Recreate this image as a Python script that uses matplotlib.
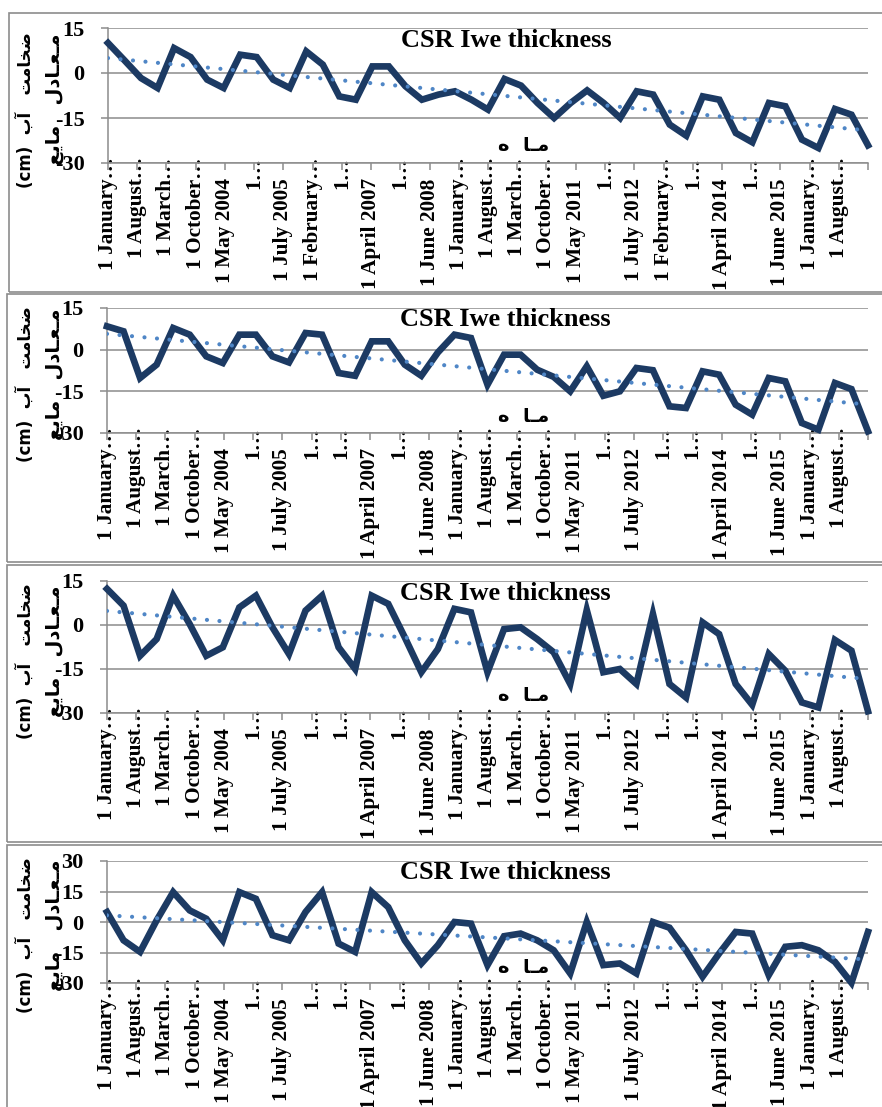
import matplotlib
matplotlib.use("Agg")
import matplotlib.pyplot as plt
import numpy as np
import pandas as pd
from matplotlib.patches import Rectangle
from matplotlib import transforms

# Data points, evenly spaced Jan 2002 .. Mar 2017
dates = pd.date_range("2002-01-01", "2017-03-01", periods=47)
tick_dates = pd.date_range("2002-01-01", periods=27, freq="7MS")

csr_1 = [10, 4.2, -1.7, -5, 8.3, 5.3, -2.2, -5, 6.1, 5.3, -2.2, -5,
         7.2, 2.8, -7.8, -8.9, 2.2, 2.2, -4.4, -8.9, -7.2, -6.1, -8.9, -12.2,
         -2, -4.2, -10, -15, -10, -5.8, -10, -15, -6.1, -7.2, -17.2, -20.9,
         -7.8, -8.9, -20, -23.1, -10, -11.1, -22.2, -25, -12, -13.9, -24.1]
csr_2 = [8.4, 6.6, -10.2, -5.4, 7.8, 5.4, -2.4, -4.8, 5.4, 5.4, -2.4, -4.6,
         6, 5.4, -8.4, -9.4, 3, 3, -5.4, -9.4, -1, 5.4, 4.2, -12.6,
         -1.8, -1.8, -7.2, -9.8, -15, -6, -16.6, -15, -6.6, -7.4, -20.4, -21,
         -7.8, -9, -19.8, -23.4, -10.2, -11.4, -26.4, -28.8, -12, -14.2, -29.4]
csr_3 = [12.3, 6.6, -10.5, -4.8, 10, 0.3, -10.5, -7.6, 6, 10, -0.8, -9.9,
         4.9, 10, -7.6, -15, 10, 7.2, -4.2, -16.1, -8.2, 5.5, 4.3, -16.1,
         -1.4, -0.8, -4.8, -9.3, -20.1, 5.1, -16.1, -15, -20.1, 3.75, -20.1, -24.7,
         0.9, -3.1, -20.1, -27.2, -9.9, -15.6, -26.4, -28.1, -5.1, -8.75, -29.4]
csr_4 = [4.9, -9, -14.7, 0.8, 14.7, 5.7, 1.6, -9, 14.7, 11.4, -6.5, -9,
         4.9, 14.7, -10.6, -14.7, 14.7, 7.3, -9, -20.4, -11.4, 0, -0.8, -21.2,
         -7, -5.7, -9, -13.9, -25.3, 0, -21.2, -20.4, -25.3, 0, -2.8, -13.9,
         -26.9, -15.5, -4.9, -5.7, -26.1, -12.2, -11.4, -13.9, -19.6, -29.9, -4.9]

labels_a = ["1 January…", "1 August…", "1 March…", "1 October…", "1 May 2004",
            "1…", "1 July 2005", "1 February…", "1…", "1 April 2007", "1…",
            "1 June 2008", "1 January…", "1 August…", "1 March…", "1 October…",
            "1 May 2011", "1…", "1 July 2012", "1 February…", "1…",
            "1 April 2014", "1…", "1 June 2015", "1 January…", "1 August…", ""]
labels_b = ["1 January…", "1 August…", "1 March…", "1 October…", "1 May 2004",
            "1…", "1 July 2005", "1…", "1…", "1 April 2007", "1…",
            "1 June 2008", "1 January…", "1 August…", "1 March…", "1 October…",
            "1 May 2011", "1…", "1 July 2012", "1…", "1…",
            "1 April 2014", "1…", "1 June 2015", "1 January…", "1 August…", ""]

yticks_a = [15, 0, -15, -30]
yticks_b = [30, 15, 0, -15, -30]

title = "CSR Iwe thickness"
# Persian labels written in visual (shaped) order
ylab_1 = "(cm)  \uFE8F\uFE81   \uFE96\uFEE3\uFE8E\uFEA8\uFEBF"           # ضخامت آب (cm)
ylab_2 = "\uFECA\uFBFE\uFE8E\uFEE3   \uFEDD\uFEA9\uFE8E\u0640\uFECC\u0640\uFEE3"  # معادل مایع
xlab = "\uFEE9  \uFE8E\u0640\uFEE3"                                       # ماه

W, H = 882, 1107
navy = "#1c3a63"
trend_col = "#4f86c6"
grey = "#8c8c8c"

# (values, tick labels, y ticks, axes left px, top px, bottom px, box top, box bottom, box left)
panels = [
    (csr_1, labels_a, yticks_a, 108, 28, 163, 13, 292, 9),
    (csr_2, labels_b, yticks_a, 107, 308, 433, 294, 562, 7),
    (csr_3, labels_b, yticks_a, 107, 581, 713, 565, 842, 7),
    (csr_4, labels_b, yticks_b, 107, 861, 983, 845, 1120, 7),
]

fig = plt.figure(figsize=(W / 100, H / 100), dpi=100)

for vals, labs, yt, x0, ytop, ybot, btop, bbot, bleft in panels:
    # Chart area border
    fig.add_artist(Rectangle((bleft / W, 1 - bbot / H), (W + 20 - bleft) / W,
                             (bbot - btop) / H, transform=fig.transFigure,
                             fill=False, ec=grey, lw=1.2))

    ax = fig.add_axes([x0 / W, 1 - ybot / H, (868 - x0) / W, (ybot - ytop) / H])
    ax.set_facecolor("none")

    ax.plot(dates, vals, color=navy, lw=4.8, solid_joinstyle="miter",
            clip_on=False, zorder=3)

    idx = np.arange(len(vals))
    coef = np.polyfit(idx, vals, 1)
    ax.plot(dates, np.polyval(coef, idx), color=trend_col, lw=3,
            linestyle=(0, (0.01, 3.0)), dash_capstyle="round", zorder=4)

    ax.set_xlim(dates[0], dates[-1])
    ax.set_ylim(min(yt), max(yt))
    ax.set_yticks(yt)
    ax.set_yticklabels([str(v) for v in yt], fontsize=16, fontweight="bold",
                       family="Liberation Serif")
    ax.set_xticks(tick_dates)

    ax.grid(axis="y", color=grey, lw=1.1)
    ax.grid(axis="x", visible=False)
    ax.set_axisbelow(True)
    for s in ["top", "right"]:
        ax.spines[s].set_visible(False)
    for s in ["left", "bottom"]:
        ax.spines[s].set_color(grey)
        ax.spines[s].set_linewidth(1.1)
    ax.tick_params(axis="x", length=5, width=1.1, color=grey, pad=1)
    ax.tick_params(axis="y", length=5, width=1.1, color=grey, pad=12)

    ax.set_xticklabels(labs, rotation=90, fontsize=15.3, fontweight="bold",
                       family="Liberation Serif", va="top", ha="center")
    # truncated labels sit higher (their dots reach over the axis line)
    for lab in ax.get_xticklabels():
        dy = 14 if lab.get_text().endswith("…") else -7
        off = transforms.ScaledTranslation(0, dy / 100, fig.dpi_scale_trans)
        lab.set_transform(lab.get_transform() + off)

    ax.text(0.524, 0.905, title, transform=ax.transAxes, ha="center",
            va="center", fontsize=19, fontweight="bold",
            family="Liberation Serif")
    ax.text(0.547, 0.13, xlab, transform=ax.transAxes, ha="center",
            va="center", fontsize=14, fontweight="bold", family="DejaVu Sans")

    tr = transforms.blended_transform_factory(fig.transFigure, ax.transAxes)
    fig.text(26 / W, 0.39, ylab_1, transform=tr, rotation=90, ha="center",
             va="center", fontsize=12, fontweight="bold", family="DejaVu Sans")
    fig.text(54 / W, 0.47, ylab_2, transform=tr, rotation=90, ha="center",
             va="center", fontsize=14, fontweight="bold", family="DejaVu Sans")

plt.savefig("out.png", dpi=100)
